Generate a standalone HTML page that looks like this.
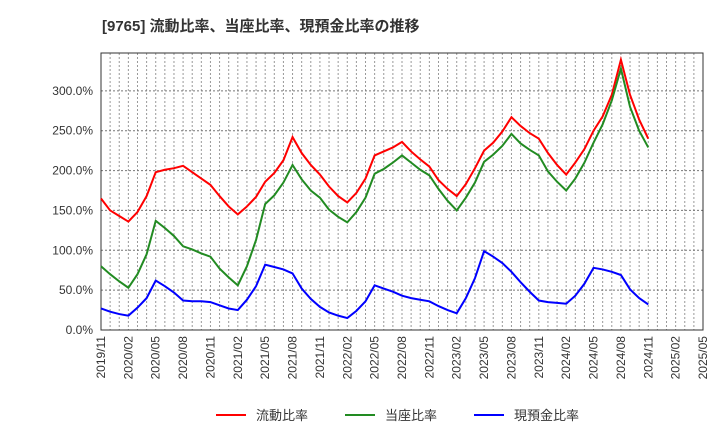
<!DOCTYPE html>
<html><head><meta charset="utf-8"><style>
body{margin:0;background:#fff;font-family:"Liberation Sans","Noto Sans CJK JP",sans-serif}
</style></head><body>
<svg id="c" width="720" height="440" xmlns="http://www.w3.org/2000/svg" font-family="Liberation Sans, Noto Sans CJK JP, sans-serif">
<text x="102" y="31" font-size="15" font-weight="bold" fill="#333">[9765]  流動比率、当座比率、現預金比率の推移</text>
<g id="grid"></g><g id="axes"></g><g id="series"></g>
<g font-size="13" fill="#333">
<line x1="216" y1="415" x2="246" y2="415" stroke="#f00" stroke-width="2"/><text x="256" y="420">流動比率</text>
<line x1="345" y1="415" x2="375" y2="415" stroke="#228b22" stroke-width="2"/><text x="385" y="420">当座比率</text>
<line x1="474" y1="415" x2="504" y2="415" stroke="#00f" stroke-width="2"/><text x="514" y="420">現預金比率</text>
</g>
</svg>
<script>
const xLabels=["2019/11","2020/02","2020/05","2020/08","2020/11","2021/02","2021/05","2021/08","2021/11","2022/02","2022/05","2022/08","2022/11","2023/02","2023/05","2023/08","2023/11","2024/02","2024/05","2024/08","2024/11","2025/02","2025/05"];
const yTicks=[0,50,100,150,200,250,300];
const currentRatio=[165,150,143,136,148,168,198,201,203,206,198,190,182,168,155,145,155,167,186,197,213,242,222,207,195,180,168,160,172,190,219,224,229,236,224,214,205,188,177,168,183,203,225,235,249,267,256,247,240,222,207,195,210,227,250,268,295,339,295,264,240];
const quickRatio=[80,70,61,53,70,95,137,128,118,105,101,96,92,77,66,56,80,113,158,169,185,207,189,175,166,151,142,135,148,166,196,202,210,219,210,201,194,177,162,150,166,185,211,220,231,246,234,226,219,199,186,175,190,210,235,258,288,328,280,250,229];
const cashRatio=[27,23,20,18,28,40,62,55,47,37,36,36,35,31,27,25,38,55,82,79,76,71,52,39,29,22,18,15,24,36,56,52,48,43,40,38,36,30,25,21,40,65,99,92,84,73,60,48,37,35,34,33,43,58,78,76,73,69,51,40,32];
const L=101,R=703,T=53,B=330,N=66,YMAX=347.5;
const xs=i=>L+(R-L)*i/N, ys=v=>B-(B-T)*v/YMAX;
const NS="http://www.w3.org/2000/svg";
function mk(p,t,a){const e=document.createElementNS(NS,t);for(const k in a)e.setAttribute(k,a[k]);p.appendChild(e);return e;}
const grid=document.getElementById('grid'),axes=document.getElementById('axes'),ser=document.getElementById('series');
for(let i=1;i<N;i++){const g=mk(grid,'line',{x1:xs(i),x2:xs(i),y1:T,y2:B,stroke:'#999','stroke-dasharray':'2,2','stroke-width':1});

}
yTicks.forEach(v=>{const g=mk(grid,'line',{x1:L,x2:R,y1:ys(v),y2:ys(v),stroke:'#777','stroke-dasharray':'2,2','stroke-width':1});


const t=mk(axes,'text',{x:93,y:ys(v)+4,'text-anchor':'end','font-size':12,fill:'#333'});t.textContent=v.toFixed(1)+'%';

});
xLabels.forEach((s,i)=>{const x=xs(i*3);const t=mk(axes,'text',{x:0,y:0,transform:`translate(${x+4},336) rotate(-90)`,'text-anchor':'end','font-size':12,fill:'#333'});t.textContent=s;

});
const f=mk(axes,'rect',{x:L,y:T,width:R-L,height:B-T,fill:'none',stroke:'#333','stroke-width':1});


[[currentRatio,'#f00','current-ratio-line'],[quickRatio,'#228b22','quick-ratio-line'],[cashRatio,'#00f','cash-ratio-line']].forEach(([d,c,n])=>{
const p=mk(ser,'polyline',{points:d.map((v,i)=>xs(i)+','+ys(v)).join(' '),fill:'none',stroke:c,'stroke-width':2});

});
</script>
</body></html>
